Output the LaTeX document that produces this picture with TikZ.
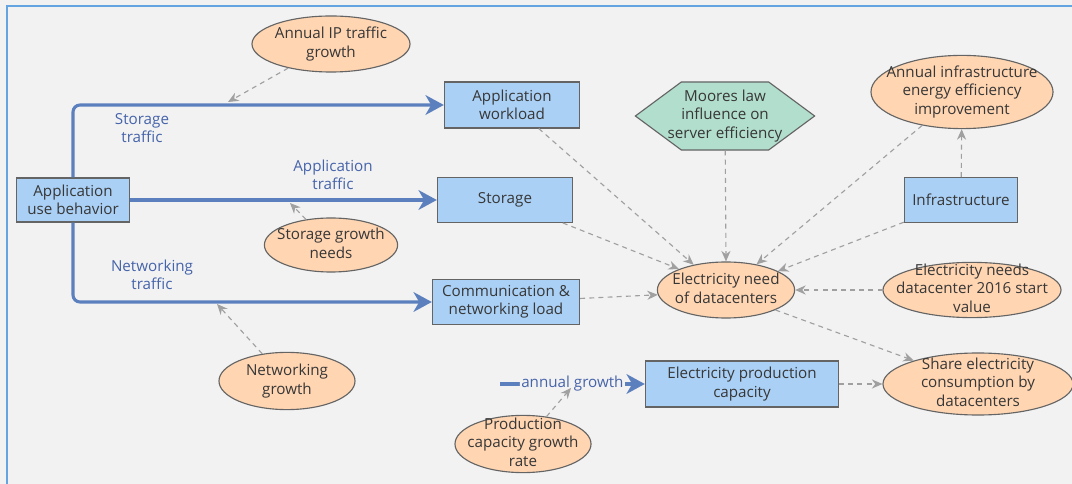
\documentclass[tikz,border=0pt]{standalone}
\usepackage{fontspec}
\setmainfont{Open Sans}
\usetikzlibrary{arrows.meta, positioning, shapes.geometric, shapes.symbols}

\definecolor{bggray}{RGB}{242,242,242}
\definecolor{framebl}{RGB}{100,165,225}
\definecolor{stockblue}{RGB}{170,208,245}
\definecolor{auxpeach}{RGB}{255,213,178}
\definecolor{constgreen}{RGB}{178,222,205}
\definecolor{edgegray}{RGB}{100,100,100}
\definecolor{txtgray}{RGB}{55,55,55}
\definecolor{flowblue}{RGB}{92,128,190}
\definecolor{labelblue}{RGB}{70,100,170}
\definecolor{linkgray}{RGB}{160,160,160}

% text that does not size its shape
\newcommand{\fitin}[1]{\makebox[0pt]{\smash{\raisebox{-0.5ex}{\begin{tabular}{@{}c@{}}#1\end{tabular}}}}}

\tikzset{
    stock/.style={rectangle, draw=edgegray, fill=stockblue, line width=0.8pt, align=center, text=txtgray, inner sep=2pt},
    aux/.style={ellipse, draw=edgegray, fill=auxpeach, line width=0.8pt, text=txtgray, inner sep=0pt},
    const/.style={signal, signal to=west and east, signal pointer angle=73, draw=edgegray, fill=constgreen, line width=0.8pt, text=txtgray, inner sep=0pt},
    flow/.style={draw=flowblue, line width=2.2pt, rounded corners=5pt, -{Stealth[length=13pt, width=14pt, inset=4pt]}},
    link/.style={draw=linkgray, line width=0.8pt, dash pattern=on 3.5pt off 3pt, -{Stealth[length=7.5pt, width=6.5pt]}},
    flowlabel/.style={text=labelblue, align=center, inner sep=1pt},
}

\begin{document}
\begin{tikzpicture}[x=0.025cm, y=-0.025cm, font=\fontsize{10.8}{13}\selectfont]
    % Background and frame
    \fill[bggray] (0,0) rectangle (1072,484);
    \useasboundingbox (0,0) rectangle (1072,484);
    \draw[framebl, line width=1pt] (7,484) -- (7,6) -- (1072,6);

    % Stocks
    \node[stock, minimum width=2.83cm, minimum height=1.1cm] (usebeh) at (73,200) {Application\\use behavior};
    \node[stock, minimum width=3.38cm, minimum height=1.15cm] (workload) at (512,105) {Application\\workload};
    \node[stock, minimum width=3.38cm, minimum height=1.12cm] (storage) at (505,200) {Storage};
    \node[stock, minimum width=3.68cm, minimum height=1.12cm] (comm) at (506,302) {Communication \&\\networking load};
    \node[stock, minimum width=2.83cm, minimum height=1.12cm] (infra) at (961,200) {Infrastructure};
    \node[stock, minimum width=4.83cm, minimum height=1.15cm] (prodcap) at (742,384) {Electricity production\\capacity};

    % Auxiliaries
    \node[aux, minimum width=3.95cm, minimum height=1.4cm] (ipgrowth) at (331,44) {\fitin{Annual IP traffic\\growth}};
    \node[aux, minimum width=3.33cm, minimum height=1.35cm] (stgrowth) at (331,245) {\fitin{Storage growth\\needs}};
    \node[aux, minimum width=3.4cm, minimum height=1.43cm] (netgrowth) at (287,381) {\fitin{Networking\\growth}};
    \node[aux, minimum width=4.55cm, minimum height=1.83cm] (infraeff) at (962,92) {\fitin{Annual infrastructure\\energy efficiency\\improvement}};
    \node[aux, minimum width=3.43cm, minimum height=1.4cm] (elecneed) at (726,290) {\fitin{Electricity need\\of datacenters}};
    \node[aux, minimum width=4.45cm, minimum height=1.38cm] (elecstart) at (972,290) {\fitin{Electricity needs\\datacenter 2016 start\\value}};
    \node[aux, minimum width=4.75cm, minimum height=1.55cm] (share) at (978,384) {\fitin{Share electricity\\consumption by\\datacenters}};
    \node[aux, minimum width=3.4cm, minimum height=1.43cm] (prodrate) at (523,444) {\fitin{Production\\capacity growth\\rate}};

    % Constant
    \node[const, minimum width=4.48cm, minimum height=1.7cm] (moore) at (725,116) {\fitin{Moores law\\influence on\\server efficiency}};

    % Flows
    \coordinate (growthsrc) at (500,384);
    \draw[flow] (usebeh.north) |- (workload.west);
    \draw[flow] (usebeh.east) -- (storage.west);
    \draw[flow] (usebeh.south) |- (comm.west);
    \draw[flow] (growthsrc) -- (prodcap.west)
        node[midway, fill=bggray, text=labelblue, inner sep=1pt] (growthlabel) {annual growth};

    \node[flowlabel] (stlabel) at (142,128) {Storage\\traffic};
    \node[flowlabel] (applabel) at (333,175) {Application\\traffic};
    \node[flowlabel] (netlabel) at (152,275) {Networking\\traffic};

    % Links onto the flows
    \coordinate (ipvalve) at (228,102);
    \coordinate (stvalve) at (290,203);
    \coordinate (netvalve) at (217,304);
    \coordinate (ratevalve) at (571,388);
    \draw[link] (ipgrowth) -- (ipvalve);
    \draw[link] (stgrowth) -- (stvalve);
    \draw[link] (netgrowth) -- (netvalve);
    \draw[link] (prodrate) -- (ratevalve);

    % Links into electricity need
    \draw[link] (workload) -- (elecneed.142);
    \draw[link] (storage) -- (elecneed.156);
    \draw[link] (moore) -- (elecneed.90);
    \draw[link] (infraeff) -- (elecneed.40);
    \draw[link] (infra) -- (elecneed.20);
    \draw[link] (elecstart) -- (elecneed.0);
    \draw[link] (comm) -- (elecneed.184);
    \draw[link] (infra) -- (infraeff);
    \draw[link] (elecneed.338) -- (share.160);
    \draw[link] (prodcap) -- (share);
\end{tikzpicture}
\end{document}
